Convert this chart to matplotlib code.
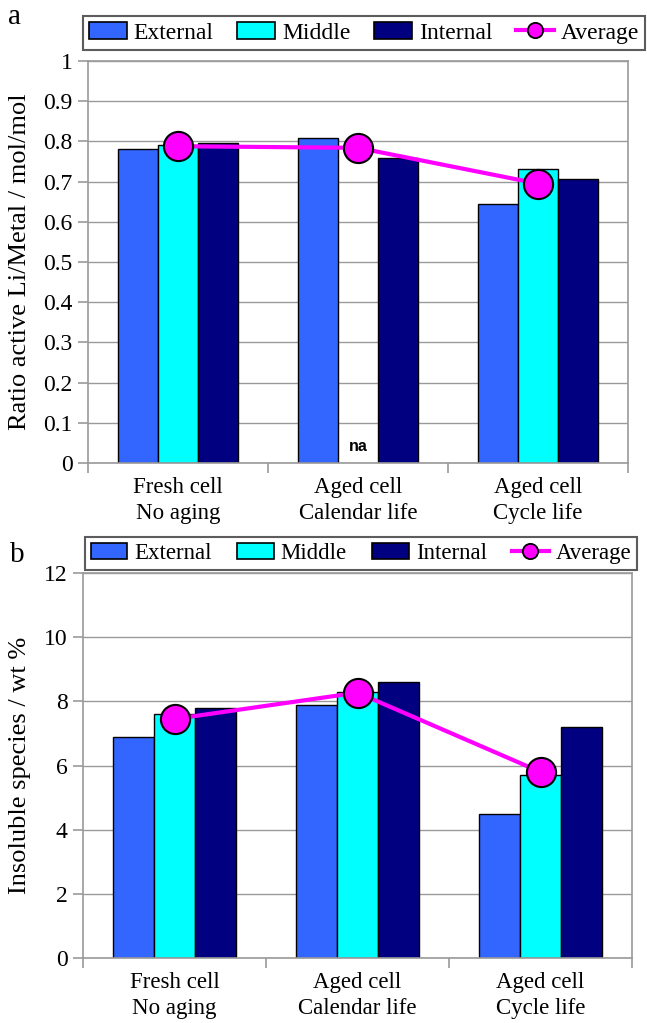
import numpy as np
import matplotlib.pyplot as plt
from matplotlib.patches import Patch
from matplotlib.lines import Line2D

plt.rcParams['font.family'] = ['Liberation Serif', 'DejaVu Serif']

categories = ["Fresh cell\nNo aging", "Aged cell\nCalendar life", "Aged cell\nCycle life"]
series_names = ["External", "Middle", "Internal"]

# (a) active Li / metal ratio, mol/mol  (middle of calendar-aged cell not available)
li_external = [0.78, 0.809, 0.645]
li_middle = [0.79, np.nan, 0.732]
li_internal = [0.795, 0.759, 0.707]
li_average = [0.788, 0.784, 0.695]

# (b) insoluble species, wt %
ins_external = [6.9, 7.9, 4.5]
ins_middle = [7.6, 8.3, 5.7]
ins_internal = [7.8, 8.6, 7.2]
ins_average = [7.45, 8.27, 5.8]

colors = ["#3366FF", "#00FFFF", "#000080"]
avg_color = "#FF00FF"
grid_color = "#9a9a9a"


def draw_panel(ax, ext, mid, inn, avg, ylim, yticks, ylabel, label_x):
    x = np.arange(len(categories))
    w = 0.67 / 3
    for i, vals in enumerate([ext, mid, inn]):
        ax.bar(x + (i - 1) * w, vals, w, color=colors[i], edgecolor="black",
               linewidth=1, zorder=2)
    ax.plot(x, avg, color=avg_color, lw=3, marker="o", ms=21,
            markerfacecolor=avg_color, markeredgecolor="black", mew=1.5, zorder=3)

    ax.set_xlim(-0.5, 2.5)
    ax.set_ylim(*ylim)
    ax.set_yticks(yticks)
    ax.set_yticklabels([("%g" % t) for t in yticks], fontsize=17)
    ax.yaxis.grid(True, color=grid_color, lw=1)
    ax.set_axisbelow(True)
    for s in ax.spines.values():
        s.set_color(grid_color)
        s.set_linewidth(1.2)
    ax.tick_params(axis="y", direction="out", length=7, color=grid_color, width=1.2, pad=4)

    # category labels between the boundary ticks
    ax.set_xticks([-0.5, 0.5, 1.5, 2.5])
    ax.set_xticklabels([])
    ax.tick_params(axis="x", direction="out", length=7, color=grid_color, width=1.2)
    ax.set_xticks(x, minor=True)
    ax.set_xticklabels(categories, minor=True, fontsize=16.5, linespacing=1.35)
    ax.tick_params(axis="x", which="minor", length=0, pad=10)
    ax.set_ylabel(ylabel, fontsize=19, va="center")
    ax.yaxis.set_label_coords(label_x, 0.5)


def add_legend(fig, bbox, fontsize, colspacing):
    handles = [Patch(facecolor=c, edgecolor="black", lw=1.2) for c in colors]
    handles.append(Line2D([], [], color=avg_color, lw=3, marker="o", ms=11,
                          markerfacecolor=avg_color, markeredgecolor="black", mew=1.3))
    leg = fig.legend(handles, series_names + ["Average"], loc="center",
                     bbox_to_anchor=bbox, bbox_transform=fig.transFigure,
                     ncol=4, mode="expand", fontsize=fontsize, frameon=True,
                     fancybox=False, edgecolor="#333333", borderpad=0.25,
                     handlelength=1.6, handleheight=0.7, handletextpad=0.3,
                     columnspacing=colspacing, borderaxespad=0)
    leg.get_frame().set_linewidth(1.5)
    return leg


fig = plt.figure(figsize=(6.47, 10.23), dpi=100)
W, H = 647.0, 1023.0

ax1 = fig.add_axes([88 / W, 1 - 463 / H, 540 / W, 402 / H])
draw_panel(ax1, li_external, li_middle, li_internal, li_average,
           (0, 1), [0, 0.1, 0.2, 0.3, 0.4, 0.5, 0.6, 0.7, 0.8, 0.9, 1],
           "Ratio active Li/Metal / mol/mol", -0.126)
ax1.text(1, 0.04, "na", ha="center", va="center", fontsize=11.5,
         fontweight="bold", family=["Liberation Sans", "DejaVu Sans"])

ax2 = fig.add_axes([83 / W, 1 - 958 / H, 549 / W, 385 / H])
draw_panel(ax2, ins_external, ins_middle, ins_internal, ins_average,
           (0, 12), [0, 2, 4, 6, 8, 10, 12], "Insoluble species / wt %", -0.115)

add_legend(fig, (83 / W, 1 - 50 / H, 562 / W, 34 / H), 17, 0.4)
add_legend(fig, (85 / W, 1 - 570 / H, 552 / W, 33 / H), 16.5, 0.8)

fig.text(8 / W, 1 - 17 / H, "a", fontsize=21, va="center", ha="left")
fig.text(10 / W, 1 - 555 / H, "b", fontsize=21, va="center", ha="left")

fig.savefig("out.png", dpi=100)
